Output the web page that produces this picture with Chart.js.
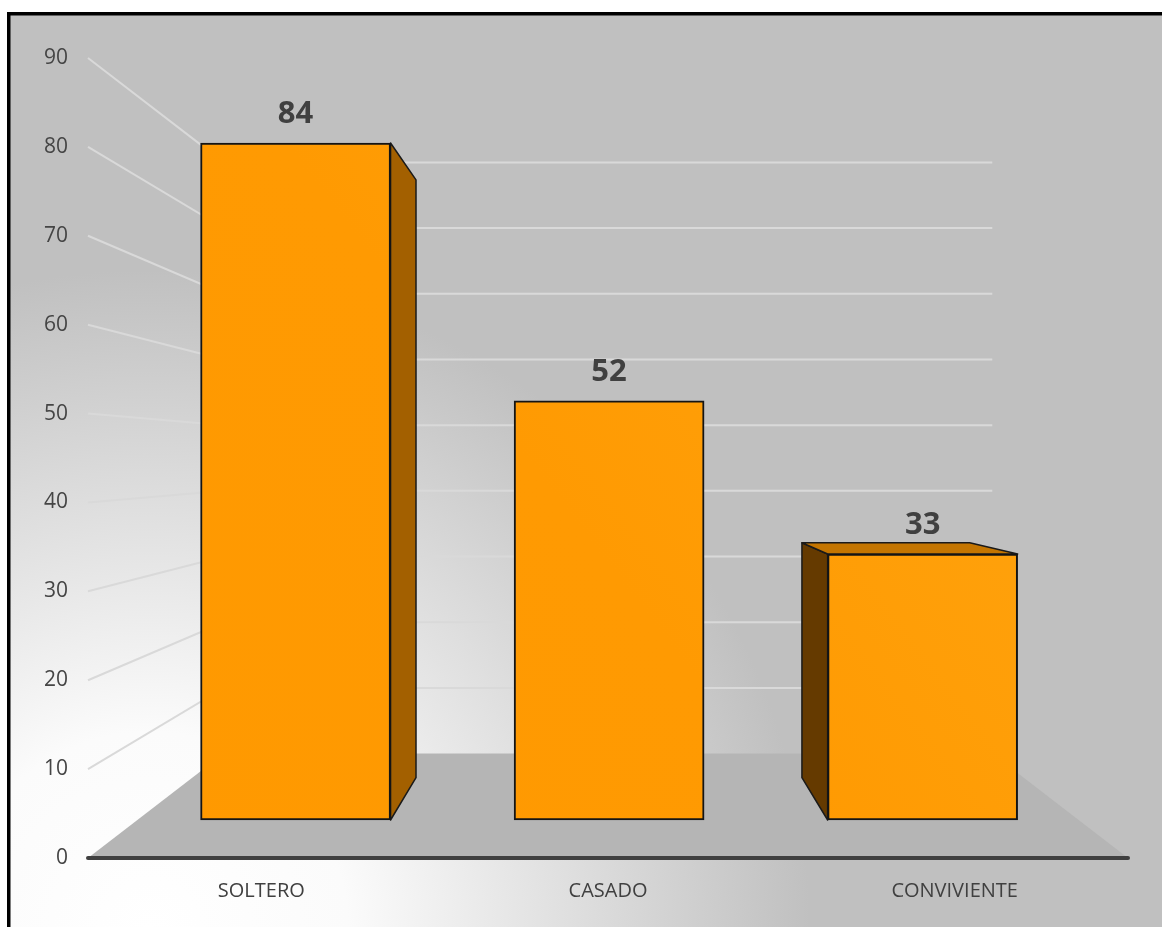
<!DOCTYPE html>
<html><head><meta charset="utf-8">
<script src="https://cdn.jsdelivr.net/npm/chart.js@4"></script>
<style>html,body{margin:0;padding:0;background:#fff}canvas{display:block}</style>
</head><body>
<canvas id="c" width="1162" height="927"></canvas>
<script>
const categories = ['SOLTERO', 'CASADO', 'CONVIVIENTE'];
const values = [84, 52, 33];
const tickValues = [0, 10, 20, 30, 40, 50, 60, 70, 80, 90];

const VP_VALUE = 45;       // height of the vanishing point, in axis units
const FLOOR_DEPTH = 0.261; // depth of floor / walls toward the vanishing point
const BAR_DEPTH = 0.117;   // depth of each 3D column

Chart.defaults.font.family = "'Open Sans', sans-serif";

function vanish(chart) {
  const ca = chart.chartArea, yt = chart.scales.yt;
  return { x: (ca.left + ca.right) / 2, y: yt.getPixelForValue(VP_VALUE) };
}
function toward(p, v, k) { return { x: p.x + k * (v.x - p.x), y: p.y + k * (v.y - p.y) }; }
function poly(ctx, pts) {
  ctx.beginPath();
  ctx.moveTo(pts[0].x, pts[0].y);
  for (let i = 1; i < pts.length; i++) ctx.lineTo(pts[i].x, pts[i].y);
  ctx.closePath();
}

const background = {
  id: 'background',
  beforeDraw(chart) {
    const ctx = chart.ctx, W = chart.width, H = chart.height;
    ctx.save();
    ctx.fillStyle = '#ffffff';
    ctx.fillRect(0, 0, W, H);
    const g = ctx.createRadialGradient(150, 930, 0, 150, 930, 660);
    g.addColorStop(0, '#ffffff');
    g.addColorStop(0.3, '#fbfbfb');
    g.addColorStop(0.66, '#dddddd');
    g.addColorStop(1, '#c0c0c0');
    ctx.fillStyle = g;
    ctx.fillRect(10, 15, W - 10, H - 15);
    ctx.fillStyle = '#000000';
    ctx.fillRect(7, 12, W - 7, 3.5);
    ctx.fillRect(7, 12, 3.5, H - 12);
    ctx.restore();
  }
};

const scene = {
  id: 'scene',
  beforeDatasetsDraw(chart) {
    const ctx = chart.ctx, ca = chart.chartArea, yt = chart.scales.yt;
    const V = vanish(chart);
    const fl = { x: ca.left, y: yt.getPixelForValue(0) };
    const fr = { x: ca.right, y: fl.y };
    const bl = toward(fl, V, FLOOR_DEPTH), br = toward(fr, V, FLOOR_DEPTH);
    ctx.save();
    // floor
    ctx.fillStyle = '#b5b5b5';
    poly(ctx, [fl, fr, br, bl]);
    ctx.fill();
    // side wall + back wall gridlines
    ctx.strokeStyle = '#d9d9d9';
    ctx.lineWidth = 2;
    tickValues.forEach(v => {
      if (v === 0) return;
      const f = { x: ca.left, y: yt.getPixelForValue(v) };
      const b = toward(f, V, FLOOR_DEPTH);
      ctx.beginPath();
      ctx.moveTo(f.x, f.y); ctx.lineTo(b.x, b.y); ctx.lineTo(br.x, b.y);
      ctx.stroke();
    });
    // category axis line
    ctx.strokeStyle = '#404040';
    ctx.lineWidth = 4;
    ctx.lineCap = 'round';
    ctx.beginPath();
    ctx.moveTo(fl.x, fl.y); ctx.lineTo(fr.x, fr.y);
    ctx.stroke();
    // column side / top faces
    ctx.lineWidth = 1.5;
    ctx.lineCap = 'butt';
    ctx.lineJoin = 'round';
    ctx.strokeStyle = '#1a1a1a';
    const meta = chart.getDatasetMeta(0);
    meta.data.forEach(el => {
      const p = el.getProps(['x', 'y', 'base', 'width'], true);
      const L = p.x - p.width / 2, R = p.x + p.width / 2, T = p.y, B = p.base;
      const tl = { x: L, y: T }, tr = { x: R, y: T }, blc = { x: L, y: B }, brc = { x: R, y: B };
      const btl = toward(tl, V, BAR_DEPTH), btr = toward(tr, V, BAR_DEPTH);
      const bbl = toward(blc, V, BAR_DEPTH), bbr = toward(brc, V, BAR_DEPTH);
      if (R < V.x) {
        ctx.fillStyle = '#a36000';
        poly(ctx, [tr, btr, bbr, brc]); ctx.fill(); ctx.stroke();
      }
      if (L > V.x) {
        ctx.fillStyle = '#653a00';
        poly(ctx, [tl, btl, bbl, blc]); ctx.fill(); ctx.stroke();
      }
      if (T > V.y) {
        ctx.fillStyle = '#c47500';
        poly(ctx, [tl, tr, btr, btl]); ctx.fill(); ctx.stroke();
      }
    });
    ctx.restore();
  },
  afterDatasetsDraw(chart) {
    const ctx = chart.ctx;
    const meta = chart.getDatasetMeta(0);
    ctx.save();
    ctx.font = "bold 31px 'Open Sans', sans-serif";
    ctx.fillStyle = '#404040';
    ctx.textAlign = 'center';
    ctx.textBaseline = 'middle';
    meta.data.forEach((el, i) => {
      const p = el.getProps(['x', 'y'], true);
      ctx.fillText(String(values[i]), p.x, p.y - 29);
    });
    ctx.restore();
  }
};

new Chart(document.getElementById('c'), {
  type: 'bar',
  data: {
    datasets: [{
      data: values.map((v, i) => ({ x: i, y: v })),
      xAxisID: 'xb',
      yAxisID: 'y',
      barThickness: 190,
      borderWidth: 2,
      borderColor: '#141414',
      borderSkipped: false,
      backgroundColor(ctx) {
        const ca = ctx.chart.chartArea;
        if (!ca) return '#ff9c00';
        const g = ctx.chart.ctx.createLinearGradient(ca.left, ca.bottom, ca.right, ca.top);
        g.addColorStop(0, '#ff9900');
        g.addColorStop(0.45, '#ff9a02');
        g.addColorStop(1, '#ffa814');
        return g;
      }
    }]
  },
  options: {
    responsive: false,
    animation: false,
    devicePixelRatio: 1,
    layout: { padding: { left: 0, right: 34, top: 58, bottom: 0 } },
    plugins: { legend: { display: false }, tooltip: { enabled: false } },
    scales: {
      x: {
        type: 'category',
        labels: categories,
        offset: true,
        position: 'bottom',
        grid: { display: false, drawTicks: false },
        border: { display: false },
        ticks: { color: '#404040', font: { size: 20 }, padding: 21, maxRotation: 0 },
        afterFit(s) { s.height = 69; }
      },
      xb: {
        type: 'linear',
        display: false,
        offset: false,
        bounds: 'ticks',
        min: -0.662,
        max: 2.655,
        grace: 0
      },
      y: {
        type: 'linear',
        display: false,
        min: -4.715,
        max: 94.55
      },
      yt: {
        type: 'linear',
        position: 'left',
        min: 0,
        max: 90,
        afterBuildTicks(s) { s.ticks = tickValues.map(v => ({ value: v })); },
        grid: { display: false, drawTicks: false },
        border: { display: false },
        ticks: { color: '#454545', font: { size: 21 }, padding: 20 },
        afterFit(s) { s.width = 88; }
      }
    }
  },
  plugins: [background, scene]
});
</script>
</body></html>
